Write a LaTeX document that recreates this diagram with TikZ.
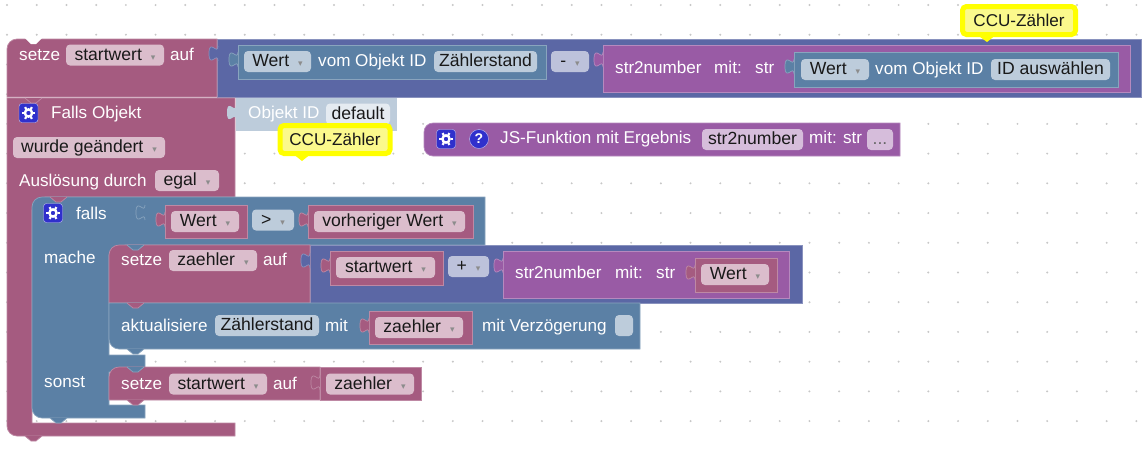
\documentclass[tikz,border=0pt]{standalone}
\usepackage{fontspec}
\setmainfont{Liberation Sans}
\newfontfamily\ddfont{DejaVu Sans}
\usepackage{xcolor}
\definecolor{maroon}{HTML}{A55B80}
\definecolor{maroonl}{HTML}{DBBDCC}
\definecolor{violet}{HTML}{5B67A5}
\definecolor{violetl}{HTML}{BDC2DB}
\definecolor{steel}{HTML}{5B80A5}
\definecolor{steell}{HTML}{BDCCDB}
\definecolor{lila}{HTML}{995BA5}
\definecolor{lilal}{HTML}{D6BDDB}
\definecolor{ghost}{HTML}{BDCCDB}
\definecolor{iconblue}{HTML}{3030CC}
\definecolor{tipout}{HTML}{FFFF00}
\definecolor{tipin}{HTML}{FBF98C}
\newcommand{\dd}{\hspace{9pt}{\ddfont\fontsize{9}{9}\selectfont\textcolor{black!45}{▾}}}
\newcommand{\puzzle}[3]{\path[blk=#3,shift={(#1,#2)}] (0,0) .. controls (0,10) and (-9,-8) .. (-9,7.5) .. controls (-9,23) and (0,5) .. (0,15);}
\newcommand{\notch}[3]{\path[blk=#3,shift={(#1,#2)}] (0,0) -- (6,5) -- (11,5) -- (17,0);}
\newcommand{\gear}[1]{\draw[white,line width=2.4pt] (#1.center) circle (3.6);
  \foreach \a in {0,60,...,300} \draw[white,line width=2.2pt] ([shift={(\a:4.5)}]#1.center) -- ([shift={(\a:6.8)}]#1.center);}
\begin{document}
\begin{tikzpicture}[x=1pt, y=-1pt, font=\fontsize{17.1}{20}\selectfont,
  blk/.style={fill=#1, draw=#1!72!white, line width=0.7pt},
  fld/.style={rectangle, rounded corners=4pt, fill=#1, inner sep=0pt, minimum height=21, text height=13, text depth=2.5, text=black!90, font=\fontsize{17.6}{20}\selectfont},
  lbl/.style={anchor=west, inner sep=0pt, text height=13, text depth=2.5, text=white},
  icon/.style={rectangle, rounded corners=3pt, fill=iconblue, draw=white!70!iconblue, minimum size=19, inner sep=0pt},
  tip/.style={rectangle, rounded corners=4pt, fill=tipin, draw=tipout, line width=5pt, inner sep=0pt, minimum height=28, text=black!90}
]
  \useasboundingbox (0,0) rectangle (1147,448);
  \fill[white] (0,0) rectangle (1147,448);
  \foreach \i in {0,...,38} \foreach \j in {0,...,14}
    \fill[black!22] (7+29.72*\i,5+29.72*\j) circle (1.1);

  % top row
  \path[blk=violet] (217,39) -- (1141,39) -- (1141,97) -- (217,97) -- cycle;
  \path[blk=maroon] (217,39) -- (17,39) [rounded corners=10] -- (7,39) [sharp corners] -- (7,97) -- (217,97) -- cycle;
  \fill[white] (25,38) -- (31,44) -- (36,44) -- (42,38) -- cycle;
  \puzzle{218}{46}{violet}
  \path[blk=steel] (238,45) rectangle (546,79);
  \puzzle{238}{52}{steel}
  \path[blk=lila] (603,45) rectangle (1130,92);
  \puzzle{603}{52}{lila}
  \path[blk=steel] (794,52) rectangle (1118,87);
  \puzzle{794}{59}{steel}
  \node[lbl] (setzeA) at (19,55) {setze};
  \node[fld=maroonl, minimum width=98] (startA) at (115,55) {startwert\dd};
  \node[lbl] (aufA) at (170,55) {auf};
  \node[fld=steell, minimum width=67] (wertA) at (277.5,61.5) {Wert\dd};
  \node[lbl] (vomA) at (318,61.5) {vom Objekt ID};
  \node[fld=steell, minimum width=103] (zstandA) at (485.5,61.5) {Zählerstand};
  \node[fld=violetl, minimum width=38] (minus) at (570,61.5) {-\dd};
  \node[lbl] (strA) at (615,68.5) {str2number};
  \node[lbl] (mitA) at (714,68.5) {mit:};
  \node[lbl] (argA) at (755,68.5) {str};
  \node[fld=steell, minimum width=68] (wertB) at (835,69.5) {Wert\dd};
  \node[lbl] (vomB) at (875,69.5) {vom Objekt ID};
  \node[fld=steell, minimum width=119] (idsel) at (1050.5,69.5) {ID auswählen};

  % Falls Objekt
  \path[blk=maroon] (7,98) -- (235,98) -- (235,197) -- (45,197) -- (45,210) -- (32,210) -- (32,423) -- (235,423) -- (235,436) [rounded corners=10] -- (7,436) [sharp corners] -- cycle;
  \notch{25}{98}{maroon}
  \notch{25}{436}{maroon}
  \fill[ghost] (236,98) rectangle (397,131);
  \path[fill=ghost,shift={(236,105)}] (0,0) .. controls (0,10) and (-9,-8) .. (-9,7.5) .. controls (-9,23) and (0,5) .. (0,15);
  \node[icon] (gearA) at (28.5,113) {};
  \gear{gearA}
  \node[lbl] (fallsobj) at (51,113) {Falls Objekt};
  \node[fld=maroonl, minimum width=152] (geaend) at (89,147.5) {wurde geändert\dd};
  \node[lbl] (ausl) at (19,181) {Auslösung durch};
  \node[fld=maroonl, minimum width=64] (egal) at (187,180.5) {egal\dd};
  \node[lbl] (objid) at (248,113) {Objekt ID};
  \node[fld=white!60!ghost, minimum width=64] (default) at (358,114) {default};

  % JS-Funktion
  \path[blk=lila] (900,123) [rounded corners=9] -- (424,123) -- (424,156) [sharp corners] -- (900,156) -- cycle;
  \node[icon] (gearB) at (446,139) {};
  \gear{gearB}
  \node[circle, fill=iconblue, draw=white!70!iconblue, minimum size=19, inner sep=0pt, text=white, font=\fontsize{14}{14}\selectfont\bfseries] (hilfe) at (479,139) {?};
  \node[lbl] (jsfn) at (500,138.5) {JS-Funktion mit Ergebnis};
  \node[fld=lilal, minimum width=101] (strname) at (752.5,139.5) {str2number};
  \node[lbl] (mitstr) at (809,138.5) {mit: str};
  \node[fld=lilal, minimum width=26] (dots) at (880,139.5) {\textcolor{black!60}{...}};

  % falls
  \path[blk=steel] (32,207) [rounded corners=10] -- (32,197) [sharp corners] -- (485,197) -- (485,245) -- (125,245) -- (125,255) -- (109,255) -- (109,355) -- (145,355) -- (145,372) -- (118,372) -- (109,372) -- (109,405) -- (145,405) -- (145,418) [rounded corners=10] -- (32,418) [sharp corners] -- cycle;
  \notch{50}{197}{maroon}
  \notch{50}{418}{steel}
  \puzzle{145}{205}{steel}
  \path[blk=maroon] (165,205) rectangle (247,238);
  \puzzle{165}{212}{maroon}
  \path[blk=maroon] (308,205) rectangle (473,238);
  \puzzle{308}{212}{maroon}
  \node[icon] (gearC) at (53,213) {};
  \gear{gearC}
  \node[lbl] (falls) at (76,214) {falls};
  \node[fld=maroonl, minimum width=68] (wertC) at (205,221.5) {Wert\dd};
  \node[fld=steell, minimum width=42] (groesser) at (273,220) {>\dd};
  \node[fld=maroonl, minimum width=151] (vorher) at (389.5,221.5) {vorheriger Wert\dd};
  \node[lbl] (mache) at (44,258) {mache};
  \node[lbl] (sonst) at (44,382) {sonst};

  % setze zaehler
  \path[blk=violet] (310,245) rectangle (802,303);
  \path[blk=maroon] (310,245) -- (119,245) [rounded corners=10] -- (109,245) [sharp corners] -- (109,303) -- (310,303) -- cycle;
  \notch{127}{245}{steel}
  \puzzle{310}{253}{violet}
  \path[blk=maroon] (330,251) rectangle (443,285);
  \puzzle{330}{258}{maroon}
  \path[blk=lila] (503,251) rectangle (789,298);
  \puzzle{503}{258}{lila}
  \path[blk=maroon] (695,258) rectangle (777,292);
  \puzzle{695}{265}{maroon}
  \node[lbl] (setzeB) at (121,260) {setze};
  \node[fld=maroonl, minimum width=88] (zaehlerA) at (213,260.5) {zaehler\dd};
  \node[lbl] (aufB) at (263,260) {auf};
  \node[fld=maroonl, minimum width=99] (startB) at (385.5,267.5) {startwert\dd};
  \node[fld=violetl, minimum width=41] (plus) at (468.5,266.5) {+\dd};
  \node[lbl] (strB) at (515,273) {str2number};
  \node[lbl] (mitB) at (615,273) {mit:};
  \node[lbl] (argB) at (656,273) {str};
  \node[fld=maroonl, minimum width=68] (wertD) at (735,274.5) {Wert\dd};

  % aktualisiere
  \path[blk=steel] (119,303) -- (640,303) -- (640,349) -- (119,349) [rounded corners=10] -- (109,349) [sharp corners] -- (109,303) -- cycle;
  \notch{127}{303}{maroon}
  \notch{127}{349}{steel}
  \path[blk=maroon] (369,311) rectangle (472,344);
  \puzzle{369}{318}{maroon}
  \node[lbl] (aktual) at (121,326) {aktualisiere};
  \node[fld=steell, minimum width=104] (zstandB) at (267,325.5) {Zählerstand};
  \node[lbl] (mitC) at (325,326) {mit};
  \node[fld=maroonl, minimum width=88] (zaehlerB) at (419,327.5) {zaehler\dd};
  \node[lbl] (verz) at (482,326) {mit Verzögerung};
  \node[fld=steell, minimum width=18] (delay) at (624,325.5) {};

  % sonst
  \path[blk=maroon] (320,367) -- (119,367) [rounded corners=10] -- (109,367) [sharp corners] -- (109,400) -- (320,400) -- cycle;
  \path[blk=maroon] (320,367) rectangle (421,400);
  \notch{127}{367}{steel}
  \notch{127}{400}{maroon}
  \puzzle{320}{375}{maroon}
  \node[lbl] (setzeC) at (121,384) {setze};
  \node[fld=maroonl, minimum width=98] (startC) at (218,384) {startwert\dd};
  \node[lbl] (aufC) at (273,384) {auf};
  \node[fld=maroonl, minimum width=88] (zaehlerC) at (370,384) {zaehler\dd};

  % Kommentare
  \fill[tipout] (292,153) -- (302,161) -- (312,153) -- cycle;
  \node[tip, minimum width=110] (tipA) at (335,139.5) {CCU-Zähler};
  \fill[tipout] (976,34) -- (987,42) -- (997,34) -- cycle;
  \node[tip, minimum width=113] (tipB) at (1019,20.5) {CCU-Zähler};
\end{tikzpicture}
\end{document}
